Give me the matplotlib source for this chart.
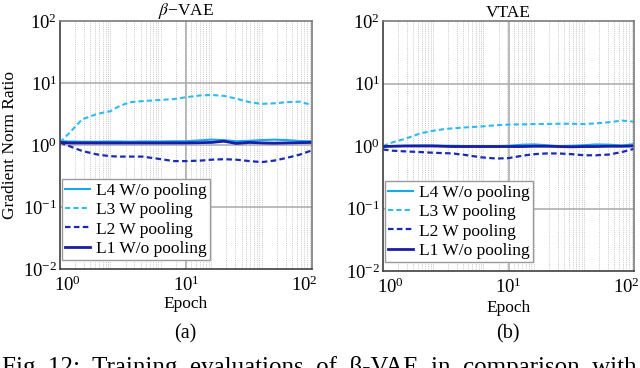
import matplotlib
matplotlib.use("Agg")
import matplotlib.pyplot as plt
import matplotlib.transforms as mtransforms
import numpy as np

plt.rcParams['font.family'] = ['Liberation Serif', 'DejaVu Serif']
plt.rcParams['mathtext.fontset'] = 'stix'
plt.rcParams['font.size'] = 12

epochs = [1, 1.2, 1.5, 2, 2.5, 3, 3.6, 4.5, 6, 8, 10, 13, 16, 20, 25, 32, 40, 50, 63, 80, 100]

# beta-VAE panel
bvae_l4 = [1.15, 1.14, 1.13, 1.13, 1.14, 1.14, 1.13, 1.14, 1.14, 1.15, 1.15, 1.19, 1.22, 1.2, 1.15, 1.17, 1.2, 1.22, 1.2, 1.16, 1.15]
bvae_l3 = [1.1, 1.6, 2.6, 3.2, 3.5, 4.3, 4.9, 5.1, 5.3, 5.5, 5.9, 6.3, 6.4, 6.2, 5.6, 4.9, 4.6, 4.7, 4.9, 5.0, 4.4]
bvae_l2 = [1.1, 0.95, 0.8, 0.7, 0.66, 0.65, 0.65, 0.65, 0.6, 0.55, 0.55, 0.56, 0.58, 0.59, 0.58, 0.55, 0.53, 0.56, 0.62, 0.7, 0.82]
bvae_l1 = [1.1, 1.08, 1.08, 1.08, 1.08, 1.08, 1.08, 1.08, 1.08, 1.08, 1.08, 1.09, 1.1, 1.15, 1.06, 1.1, 1.08, 1.07, 1.08, 1.09, 1.1]

# VTAE panel
vtae_l4 = [1.0, 1.0, 1.01, 1.02, 1.02, 1.01, 1.01, 1.0, 1.0, 1.0, 1.01, 1.05, 1.06, 1.03, 1.0, 1.01, 1.03, 1.06, 1.05, 1.02, 1.07]
vtae_l3 = [1.0, 1.15, 1.3, 1.6, 1.75, 1.85, 1.92, 1.98, 2.05, 2.15, 2.2, 2.22, 2.25, 2.25, 2.27, 2.27, 2.25, 2.3, 2.4, 2.55, 2.45]
vtae_l2 = [0.88, 0.84, 0.82, 0.8, 0.78, 0.77, 0.76, 0.72, 0.66, 0.63, 0.64, 0.7, 0.74, 0.76, 0.76, 0.74, 0.71, 0.71, 0.73, 0.8, 0.9]
vtae_l1 = [0.98, 0.99, 1.0, 1.0, 1.0, 0.99, 0.98, 0.98, 0.98, 0.98, 0.98, 0.98, 0.99, 0.99, 0.98, 0.97, 0.98, 0.98, 0.99, 0.99, 1.0]

labels = ['L4 W/o pooling', 'L3 W pooling', 'L2 W pooling', 'L1 W/o pooling']
colors = ['#14aaee', '#2ebaf2', '#1a2ab4', '#1c1ca6']
styles = ['-', (0, (2.5, 1.5)), (0, (2.5, 1.5)), '-']
widths = [1.5, 1.5, 1.6, 2.0]

panels = [
    ("$\\beta$\u2212VAE", "(a)", [bvae_l4, bvae_l3, bvae_l2, bvae_l1], [60, 21, 312, 269], 304),
    ("VTAE", "(b)", [vtae_l4, vtae_l3, vtae_l2, vtae_l1], [383, 21, 634, 271], 308),
]

W, H = 640, 368
fig = plt.figure(figsize=(6.4, 3.68), dpi=100)

for i, (title, tag, series, box, epoch_y) in enumerate(panels):
    x0, y0, x1, y1 = box
    ax = fig.add_axes([x0 / W, 1 - y1 / H, (x1 - x0) / W, (y1 - y0) / H])
    ax.set_xscale('log')
    ax.set_yscale('log')
    ax.set_xlim(1, 100)
    ax.set_ylim(1e-2, 1e2)

    # dotted vertical minor grid (as in the source figure)
    for g in range(5):
        for k in range(2, 11):
            ax.axvline(10 ** (0.4 * (g + np.log10(k))), color='#c8c8c8',
                       lw=0.7, ls=(0, (1, 1.2)), zorder=0)
    ax.axvline(10, color='#a8a8a8', lw=1.1, zorder=0.5)
    for v in [1e-1, 1, 1e1]:
        ax.axhline(v, color='#a8a8a8', lw=1.1, zorder=0.5)

    for vals, lab, c, s, w in zip(series, labels, colors, styles, widths):
        ax.plot(epochs, vals, color=c, ls=s, lw=w, label=lab)

    ax.minorticks_off()
    ax.tick_params(length=0, labelsize=13.5, pad=2)
    ax.tick_params(axis='x', pad=5)
    ax.set_xticks([1, 10, 100])
    ax.set_yticks([1e-2, 1e-1, 1, 1e1, 1e2])
    xt = ax.get_xticklabels()
    xt[0].set_transform(xt[0].get_transform() + mtransforms.ScaledTranslation(7 / 100, 0, fig.dpi_scale_trans))
    xt[-1].set_transform(xt[-1].get_transform() + mtransforms.ScaledTranslation(-8 / 100, 0, fig.dpi_scale_trans))

    for sp in ax.spines.values():
        sp.set_color('#7a7a7a')
        sp.set_linewidth(1.2)
    ax.spines['left'].set_color('#404040')
    ax.spines['bottom'].set_color('#404040')

    ax.set_title(title, fontsize=12.5, pad=2)
    cx = (x0 + x1) / 2 / W
    fig.text(cx, 1 - epoch_y / H, 'Epoch', ha='center', va='center', fontsize=12.5)
    if i == 0:
        fig.text(10 / W, 1 - 145 / H, 'Gradient Norm Ratio', rotation=90,
                 ha='center', va='center', fontsize=12.5)

    leg = ax.legend(loc='lower left', bbox_to_anchor=(0.008, 0.035), fontsize=12.5,
                    frameon=True, fancybox=False, framealpha=1,
                    edgecolor='#9a9a9a', borderpad=0.2, labelspacing=0.18,
                    handlelength=1.4, handletextpad=0.35, borderaxespad=0)
    leg.get_frame().set_linewidth(1.0)

    fig.text(cx - 0.001, 1 - 334 / H, tag, ha='center', va='center', fontsize=14.5)

fig.text(0.003, 1 - 356 / H, "Fig. 12:  Training  evaluations  of  \u03b2-VAE  in  comparison  with",
         ha='left', va='top', fontsize=18)

fig.savefig('out.png', dpi=100)
